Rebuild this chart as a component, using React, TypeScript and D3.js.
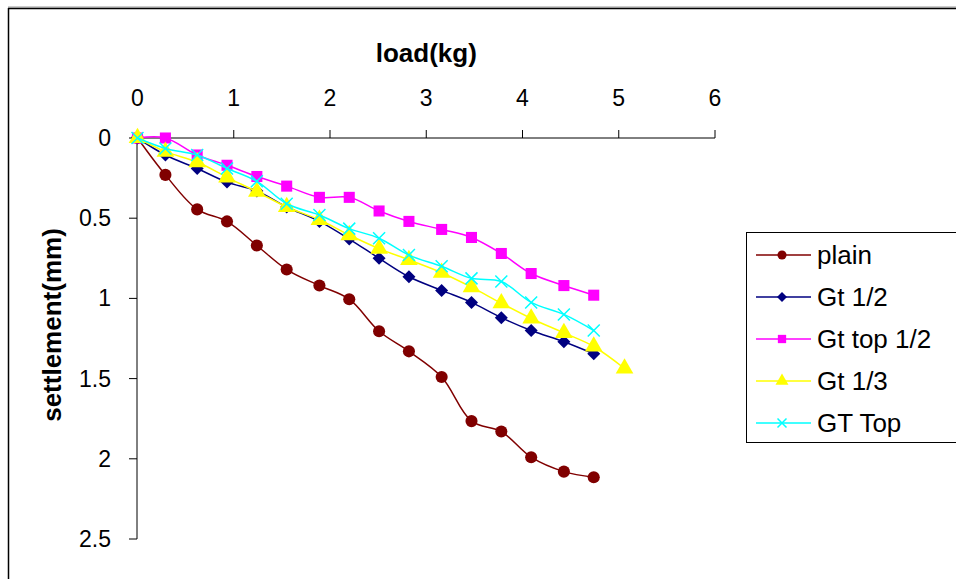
import React from "react";
import { scaleLinear, line, curveCatmullRom, symbol, symbolCircle, symbolSquare, symbolTriangle } from "d3";

const loads = [0, 0.29, 0.62, 0.93, 1.24, 1.55, 1.89, 2.2, 2.51, 2.82, 3.16, 3.47, 3.78, 4.09, 4.43, 4.74];
const loadsGt13 = [...loads, 5.06];

const plain = [0, 0.23, 0.445, 0.52, 0.67, 0.82, 0.92, 1.005, 1.205, 1.33, 1.49, 1.765, 1.83, 1.99, 2.08, 2.115];
const gtHalf = [0, 0.106, 0.19, 0.275, 0.33, 0.43, 0.52, 0.63, 0.75, 0.865, 0.95, 1.025, 1.12, 1.2, 1.27, 1.345];
const gtTopHalf = [0, 0, 0.106, 0.17, 0.24, 0.3, 0.37, 0.37, 0.455, 0.52, 0.57, 0.62, 0.72, 0.845, 0.92, 0.98];
const gtThird = [0, 0.085, 0.15, 0.245, 0.335, 0.43, 0.51, 0.605, 0.69, 0.76, 0.84, 0.93, 1.03, 1.125, 1.215, 1.3, 1.437];
const gtTop = [0, 0.065, 0.106, 0.19, 0.27, 0.41, 0.48, 0.565, 0.625, 0.73, 0.8, 0.875, 0.895, 1.025, 1.1, 1.2];

const xTicks = [0, 1, 2, 3, 4, 5, 6];
const yTicks = [0, 0.5, 1, 1.5, 2, 2.5];

type Series = { name: string; xs: number[]; ys: number[]; color: string; marker: string };

const series: Series[] = [
  { name: "plain", xs: loads, ys: plain, color: "#800000", marker: "circle" },
  { name: "Gt 1/2", xs: loads, ys: gtHalf, color: "#000080", marker: "diamond" },
  { name: "Gt top 1/2", xs: loads, ys: gtTopHalf, color: "#FF00FF", marker: "square" },
  { name: "Gt 1/3", xs: loadsGt13, ys: gtThird, color: "#FFFF00", marker: "triangle" },
  { name: "GT Top", xs: loads, ys: gtTop, color: "#00FFFF", marker: "x" },
];

const W = 956;
const H = 579;
const font = "Arial, 'Liberation Sans', sans-serif";

const x = scaleLinear().domain([0, 6]).range([137.5, 715]);
const y = scaleLinear().domain([0, 2.5]).range([138, 539]);

function Marker({ kind, color, size }: { kind: string; color: string; size: number }) {
  const h = size / 2;
  if (kind === "x") {
    return (
      <path d={`M${-h},${-h}L${h},${h}M${-h},${h}L${h},${-h}`} stroke={color} strokeWidth={1.5} fill="none" />
    );
  }
  if (kind === "diamond") {
    return <path d={`M0,${-h}L${h},0L0,${h}L${-h},0Z`} fill={color} />;
  }
  const types: Record<string, any> = {
    circle: symbolCircle,
    square: symbolSquare,
    triangle: symbolTriangle,
  };
  const area = kind === "triangle" ? size * size * 0.6 : kind === "circle" ? size * size * 0.8 : size * size * 0.85;
  const d = symbol(types[kind], area)() || "";
  return <path d={d} fill={color} stroke="none" />;
}

export default function App() {
  const lineGen = line<[number, number]>()
    .x((d) => x(d[0]))
    .y((d) => y(d[1]))
    .curve(curveCatmullRom.alpha(0.5));

  const legendX = 746;
  const legendY = 232;
  const legendRow = 42;

  return (
    <svg width={W} height={H} style={{ position: "absolute", left: 0, top: 0, background: "#fff" }} fontFamily={font}>
      <rect x={0} y={0} width={W} height={H} fill="#fff" />
      {/* outer frame */}
      <line x1={8} y1={7} x2={W} y2={7} stroke="#999" strokeWidth={1} />
      <line x1={8} y1={8.5} x2={W} y2={8.5} stroke="#000" strokeWidth={1.5} />
      <line x1={8.5} y1={8} x2={8.5} y2={H} stroke="#000" strokeWidth={1.5} />

      {/* x axis (on top) */}
      <text x={x(3)} y={62} textAnchor="middle" fontSize={26} fontWeight="bold">load(kg)</text>
      <line x1={x(0)} y1={138} x2={x(6)} y2={138} stroke="#000" strokeWidth={1} />
      {xTicks.map((t) => (
        <g key={"xt" + t}>
          <line x1={x(t)} y1={130} x2={x(t)} y2={138} stroke="#000" strokeWidth={1} />
          <text x={x(t)} y={106} textAnchor="middle" fontSize={23}>{t}</text>
        </g>
      ))}

      {/* y axis */}
      <line x1={137} y1={130} x2={137} y2={y(2.5)} stroke="#000" strokeWidth={1} />
      {yTicks.map((t) => (
        <g key={"yt" + t}>
          <line x1={129} y1={y(t)} x2={137} y2={y(t)} stroke="#000" strokeWidth={1} />
          <text x={111} y={y(t) + 8} textAnchor="end" fontSize={23}>{t}</text>
        </g>
      ))}
      <text
        transform={`translate(61,${325}) rotate(-90)`}
        textAnchor="middle"
        fontSize={26}
        fontWeight="bold"
      >
        settlement(mm)
      </text>

      {/* series */}
      {series.map((s) => {
        const pts: [number, number][] = s.xs.map((v, i) => [v, s.ys[i]]);
        return (
          <g key={s.name}>
            <path d={lineGen(pts) || ""} fill="none" stroke={s.color} strokeWidth={1.5} />
            {pts.map((p, i) => (
              <g key={i} transform={`translate(${x(p[0])},${y(p[1])})`}>
                <Marker kind={s.marker} color={s.color} size={s.marker === "triangle" ? 15 : s.marker === "diamond" ? 13 : 12} />
              </g>
            ))}
          </g>
        );
      })}

      {/* legend */}
      <rect x={legendX + 0.5} y={legendY + 0.5} width={W} height={210} fill="#fff" stroke="#000" strokeWidth={1} />
      {series.map((s, i) => {
        const cy = 255 + i * legendRow;
        return (
          <g key={"lg" + s.name}>
            <line x1={756} y1={cy} x2={811} y2={cy} stroke={s.color} strokeWidth={1.5} />
            <g transform={`translate(782,${cy})`}>
              <Marker kind={s.marker} color={s.color} size={s.marker === "triangle" ? 11 : s.marker === "diamond" ? 10 : 9} />
            </g>
            <text x={817} y={cy + 9} fontSize={26}>{s.name}</text>
          </g>
        );
      })}
    </svg>
  );
}
